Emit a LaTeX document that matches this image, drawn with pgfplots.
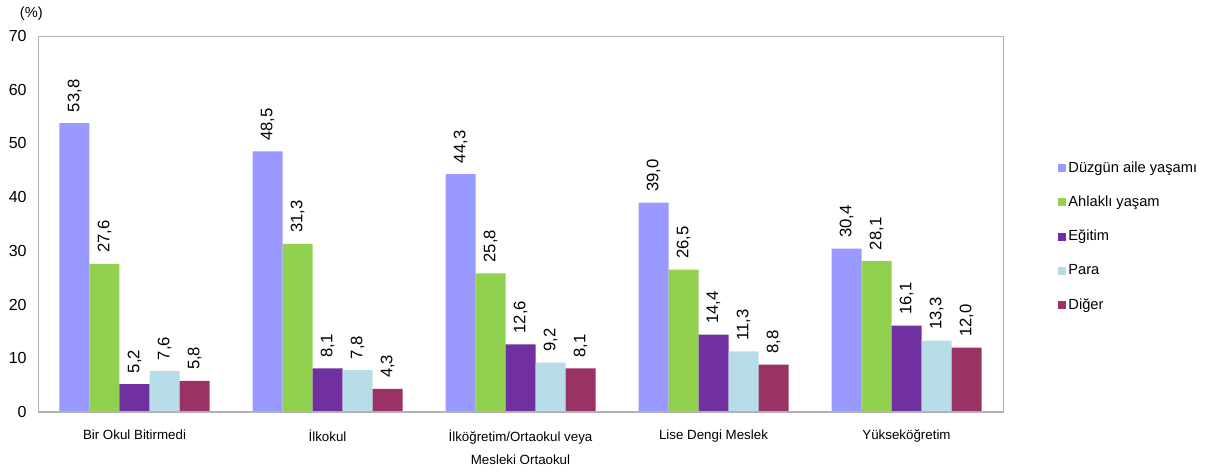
\documentclass[border=0pt]{standalone}
\usepackage{fontspec}
\setmainfont{Liberation Sans}
\usepackage{pgfplots}
\pgfplotsset{compat=1.18}
\definecolor{cA}{HTML}{9999FF}
\definecolor{cB}{HTML}{92D050}
\definecolor{cC}{HTML}{7030A0}
\definecolor{cD}{HTML}{B7DEE8}
\definecolor{cE}{HTML}{993366}
\begin{document}
\begin{tikzpicture}
\useasboundingbox (0,0) rectangle (910.5pt,354pt);
\begin{axis}[
    at={(28.5pt,45pt)}, anchor=south west,
    width=723.75pt, height=282pt, scale only axis,
    ybar=0pt, bar width=22.5pt,
    xmin=-0.5, xmax=4.5, ymin=0, ymax=70,
    xtick={0,1,2,3,4},
    xticklabels={Bir Okul Bitirmedi, İlkokul, {İlköğretim/Ortaokul veya\\Mesleki Ortaokul}, Lise Dengi Meslek, Yükseköğretim},
    ytick={0,10,...,70},
    major tick length=0pt,
    axis line style={draw=black!30},
    /pgf/number format/assume math mode=true,
    yticklabel style={font=\fontsize{12}{14}\selectfont, xshift=-5pt},
    xticklabel style={font=\fontsize{10}{17}\selectfont, align=center, yshift=-10pt},
    nodes near coords,
    every node near coord/.append style={rotate=90, anchor=west, inner xsep=8pt,
        font=\fontsize{12.5}{14}\selectfont, text=black,
        /pgf/number format/.cd, fixed, fixed zerofill, precision=1, use comma, assume math mode=true},
    legend style={at={(1.053,0.467)}, anchor=west, draw=none, fill=none,
        font=\fontsize{11}{13}\selectfont, row sep=12.2pt, nodes={inner xsep=1.5pt}},
    legend cell align=left,
    legend image code/.code={\fill[#1] (0pt,-3pt) rectangle (6pt,3pt);},
    clip=false,
]
\addplot[fill=cA, draw=none] coordinates {(0,53.8) (1,48.5) (2,44.3) (3,39.0) (4,30.4)};
\addplot[fill=cB, draw=none] coordinates {(0,27.6) (1,31.3) (2,25.8) (3,26.5) (4,28.1)};
\addplot[fill=cC, draw=none] coordinates {(0,5.2) (1,8.1) (2,12.6) (3,14.4) (4,16.1)};
\addplot[fill=cD, draw=none] coordinates {(0,7.6) (1,7.8) (2,9.2) (3,11.3) (4,13.3)};
\addplot[fill=cE, draw=none] coordinates {(0,5.8) (1,4.3) (2,8.1) (3,8.8) (4,12.0)};
\legend{Düzgün aile yaşamı, Ahlaklı yaşam, Eğitim, Para, Diğer}
\draw[black!30, line width=1.5pt] (rel axis cs:0,0) -- (rel axis cs:1,0);
\node[font=\fontsize{11}{12}\selectfont] at (rel axis cs:0,1) [xshift=-5pt, yshift=16.5pt] {(\%)};
\end{axis}
\end{tikzpicture}
\end{document}
